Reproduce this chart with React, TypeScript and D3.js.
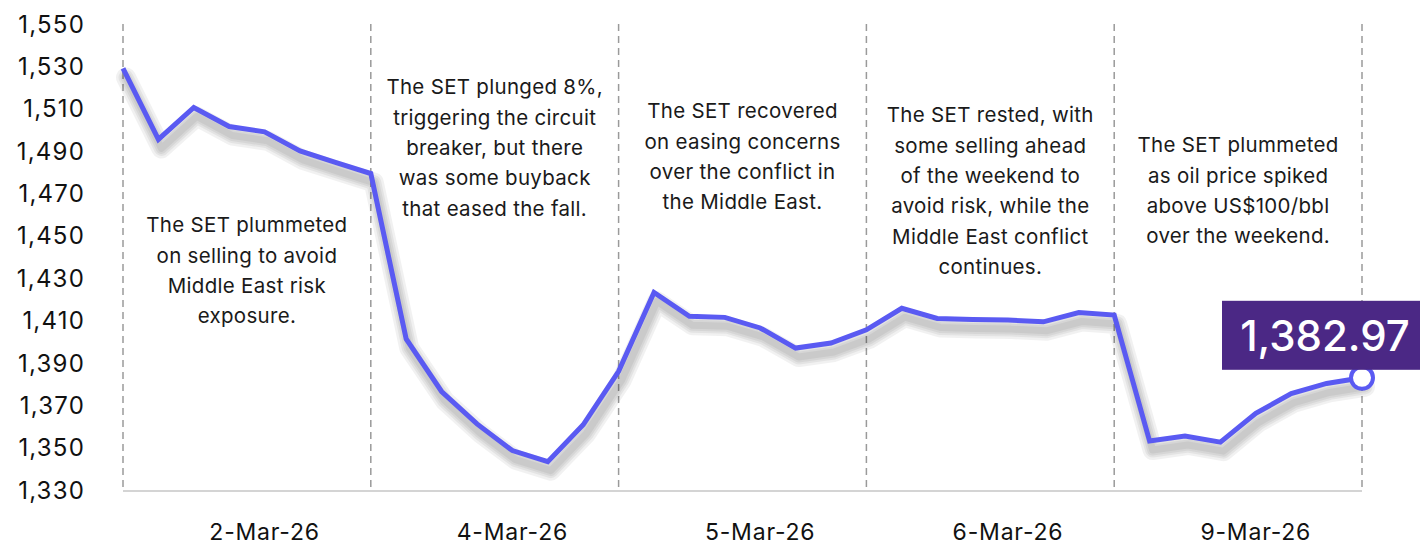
import React from 'react';
import * as d3 from 'd3';

// SET index, intraday-ish points across 5 trading days
const days = ['2-Mar-26', '4-Mar-26', '5-Mar-26', '6-Mar-26', '9-Mar-26'];

const setIndex = [
  1529.0, 1495.5, 1510.6, 1501.6, 1499.1, 1490.1, 1484.7, 1479.4,
  1401.3, 1376.5, 1361.2, 1348.6, 1343.4, 1360.8, 1386.0,
  1423.3, 1412.0, 1411.5, 1406.5, 1397.0, 1399.4, 1405.6,
  1415.8, 1411.0, 1410.5, 1410.2, 1409.4, 1413.8, 1412.6,
  1353.1, 1355.5, 1352.6, 1366.2, 1375.5, 1380.3, 1382.97,
];

const yTicks = [1330, 1350, 1370, 1390, 1410, 1430, 1450, 1470, 1490, 1510, 1530, 1550];

const notes = [
  ['The SET plummeted', 'on selling to avoid', 'Middle East risk', 'exposure.'],
  ['The SET plunged 8%,', 'triggering the circuit', 'breaker, but there', 'was some buyback', 'that eased the fall.'],
  ['The SET recovered', 'on easing concerns', 'over the conflict in', 'the Middle East.'],
  ['The SET rested, with', 'some selling ahead', 'of the weekend to', 'avoid risk, while the', 'Middle East conflict', 'continues.'],
  ['The SET plummeted', 'as oil price spiked', 'above US$100/bbl', 'over the weekend.'],
];

const noteTop = [225, 87, 111, 115, 145];

const W = 1424;
const H = 545;
const PER_DAY = 7;
const FONT = 'Inter, "Noto Sans", sans-serif';
// stacked translucent strokes fake a blurred drop shadow
const shadowWidths = [20, 15, 11, 7];

export default function App() {
  const x = d3.scaleLinear().domain([0, setIndex.length - 1]).range([123, 1362]);
  const y = d3.scaleLinear().domain([1330, 1550]).range([490, 24]);

  const line = d3.line<number>()
    .x((_, i) => x(i))
    .y(d => y(d));

  const dividers = d3.range(0, setIndex.length, PER_DAY);
  const lastI = setIndex.length - 1;
  const lastX = x(lastI);
  const lastY = y(setIndex[lastI]);
  const path = line(setIndex) ?? '';

  return (
    <svg width={W} height={H} style={{ position: 'absolute', left: 0, top: 0, background: '#fff' }}>
      {/* y labels */}
      {yTicks.map(t => (
        <text key={t} x={85} y={y(t)} dy="0.36em" textAnchor="end"
          fontFamily={FONT} fontSize={24} letterSpacing={1.2} fill="#111">
          {d3.format(',')(t)}
        </text>
      ))}

      {/* day dividers */}
      {dividers.map(i => (
        <line key={i} x1={x(i)} x2={x(i)} y1={y(1550)} y2={y(1330)}
          stroke="#9a9a9a" strokeWidth={1.5} strokeDasharray="7,5" />
      ))}

      {/* baseline */}
      <line x1={x(0)} x2={x(lastI)} y1={y(1330) + 1} y2={y(1330) + 1} stroke="#d4d4d4" strokeWidth={2} />

      {/* x labels */}
      {days.map((d, k) => (
        <text key={d} x={x(k * PER_DAY + 4)} y={532} dy="0.36em" textAnchor="middle"
          fontFamily={FONT} fontSize={23} letterSpacing={0.8} fill="#111">
          {d}
        </text>
      ))}

      {/* notes */}
      {notes.map((lines, k) => {
        const cx = (x(k * PER_DAY) + x((k + 1) * PER_DAY)) / 2;
        return (
          <text key={k} textAnchor="middle" fontFamily={FONT} fontSize={20.5}
            letterSpacing={0.3} fill="#1a1a1a">
            {lines.map((l, j) => (
              <tspan key={j} x={cx} y={noteTop[k] + j * 30.3} dy="0.36em">{l}</tspan>
            ))}
          </text>
        );
      })}

      {/* shadow under the line */}
      <g transform="translate(3,9)">
        {shadowWidths.map(w => (
          <path key={w} d={path} fill="none" stroke="#000" strokeOpacity={0.055}
            strokeWidth={w} strokeLinejoin="round" strokeLinecap="round" />
        ))}
      </g>
      <path d={path} fill="none" stroke="#5a5af2" strokeWidth={5} strokeLinejoin="miter" />

      <circle cx={lastX} cy={lastY} r={11} fill="#fff" stroke="#5a5af2" strokeWidth={4} />

      <rect x={lastX - 140} y={lastY - 77} width={198} height={69} fill="#4b2885" />
      <text x={lastX - 37} y={lastY - 42} dy="0.36em" textAnchor="middle"
        fontFamily={FONT} fontSize={42} fontWeight={500} fill="#fff">
        {d3.format(',.2f')(setIndex[lastI])}
      </text>
    </svg>
  );
}
